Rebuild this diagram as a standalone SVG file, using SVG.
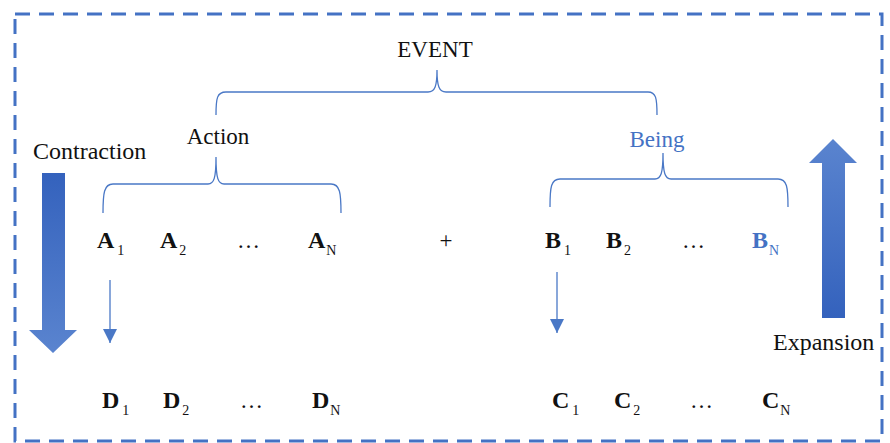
<svg xmlns="http://www.w3.org/2000/svg" width="890" height="443" viewBox="0 0 890 443">
  <defs>
    <linearGradient id="gradDown" x1="0" y1="0" x2="0" y2="1">
      <stop offset="0" stop-color="#3462bd"/>
      <stop offset="1" stop-color="#5a84cf"/>
    </linearGradient>
    <linearGradient id="gradUp" x1="0" y1="1" x2="0" y2="0">
      <stop offset="0" stop-color="#3462bd"/>
      <stop offset="1" stop-color="#5a84cf"/>
    </linearGradient>
    <marker id="head" viewBox="0 0 10 10" refX="10" refY="5" markerWidth="14" markerHeight="14" markerUnits="userSpaceOnUse" orient="auto">
      <path d="M0,0 L10,5 L0,10 Z" fill="#4a78c6"/>
    </marker>
  </defs>
  <style>
    .frame { fill: none; stroke: #4472c4; stroke-width: 3; stroke-dasharray: 15 9; }
    .brace { fill: none; stroke: #4a78c6; stroke-width: 1.3; }
    .link { fill: none; stroke: #4a78c6; stroke-width: 1.3; }
    .lbl { font-family: "Liberation Serif", "Times New Roman", serif; font-size: 23px; fill: #111; }
    .big { font-size: 24px; }
    .sym { font-family: "Liberation Serif", "Times New Roman", serif; font-size: 24px; font-weight: bold; fill: #111; }
    .sub { font-size: 14px; font-weight: normal; }
    .blue { fill: #4472c4; }
  </style>

  <rect class="frame" x="15" y="14" width="867" height="427"/>

  <!-- hierarchy braces -->
  <g id="event">
    <text class="lbl" x="435" y="57" text-anchor="middle">EVENT</text>
    <path class="brace" d="M216,115 C216,98 217,92 226,92 L428,92 C435,92 437,86 437,70 C437,86 439,92 446,92 L648,92 C656,92 657,98 657,115"/>
  </g>

  <g id="action">
    <text class="lbl" x="218" y="144" text-anchor="middle">Action</text>
    <path class="brace" d="M103,213 C103,193 104,184 113,184 L208,184 C214,184 216,178 216,157 C216,178 218,184 224,184 L331,184 C340,184 341,193 341,213"/>
  </g>

  <g id="being">
    <text class="lbl blue" x="657" y="147" text-anchor="middle">Being</text>
    <path class="brace" d="M550,207 C550,187 551,179 560,179 L655,179 C661,179 663,173 663,153 C663,173 665,179 671,179 L778,179 C787,179 788,187 788,207"/>
  </g>

  <!-- action row -->
  <g id="row-a">
    <text class="sym" x="97" y="248">A<tspan class="sub" dx="3" dy="7">1</tspan></text>
    <text class="sym" x="160" y="248">A<tspan class="sub" dx="2" dy="7">2</tspan></text>
    <text class="lbl" x="237" y="248">…</text>
    <text class="sym" x="308" y="248">A<tspan class="sub" dx="1" dy="7">N</tspan></text>
  </g>

  <text class="lbl" x="446" y="248" text-anchor="middle">+</text>

  <!-- being row -->
  <g id="row-b">
    <text class="sym" x="545" y="248">B<tspan class="sub" dx="3" dy="7">1</tspan></text>
    <text class="sym" x="606" y="248">B<tspan class="sub" dx="2" dy="7">2</tspan></text>
    <text class="lbl" x="682" y="248">…</text>
    <text class="sym blue" x="752" y="248">B<tspan class="sub" dx="1" dy="7">N</tspan></text>
  </g>

  <!-- lower rows -->
  <g id="row-d">
    <text class="sym" x="102" y="408">D<tspan class="sub" dx="3" dy="7">1</tspan></text>
    <text class="sym" x="163" y="408">D<tspan class="sub" dx="2" dy="7">2</tspan></text>
    <text class="lbl" x="240" y="408">…</text>
    <text class="sym" x="312" y="408">D<tspan class="sub" dx="1" dy="7">N</tspan></text>
  </g>

  <g id="row-c">
    <text class="sym" x="552" y="408">C<tspan class="sub" dx="3" dy="7">1</tspan></text>
    <text class="sym" x="614" y="408">C<tspan class="sub" dx="2" dy="7">2</tspan></text>
    <text class="lbl" x="690" y="408">…</text>
    <text class="sym" x="762" y="408">C<tspan class="sub" dx="1" dy="7">N</tspan></text>
  </g>

  <!-- contraction / expansion block arrows -->
  <g id="contraction">
    <text class="lbl big" x="33" y="159">Contraction</text>
    <path d="M42,173 L65,173 L65,330 L77,330 L53,353 L29,330 L42,330 Z" fill="url(#gradDown)"/>
  </g>

  <g id="expansion">
    <text class="lbl big" x="773" y="350">Expansion</text>
    <path d="M822,318 L845,318 L845,163 L857,163 L833,139 L809,163 L822,163 Z" fill="url(#gradUp)"/>
  </g>

  <g id="connectors">
    <line class="link" x1="110" y1="280" x2="110" y2="343" marker-end="url(#head)"/>
    <line class="link" x1="557" y1="272" x2="557" y2="333" marker-end="url(#head)"/>
  </g>
</svg>
